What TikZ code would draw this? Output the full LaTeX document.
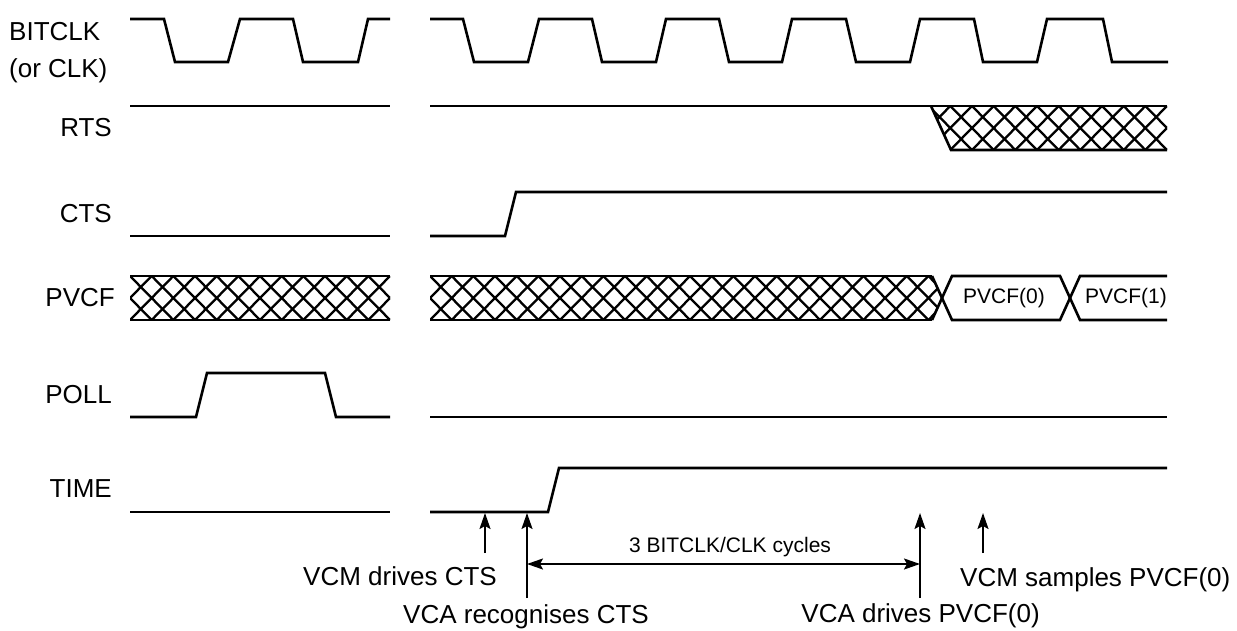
\documentclass[tikz,border=0pt]{standalone}
\usepackage{fontspec}
\setmainfont{Liberation Sans}
\usetikzlibrary{arrows.meta}
\begin{document}
\begin{tikzpicture}[x=1pt,y=-1pt,
  sig/.style={line width=2.6pt,line join=miter,line cap=butt},
  hat/.style={line width=2.3pt},
  lbl/.style={inner sep=0pt,font=\fontsize{26}{37}\selectfont},
  small/.style={inner sep=0pt,font=\fontsize{21}{25}\selectfont},
  marker/.style={line width=2pt,-{Stealth[length=16pt,width=11pt,inset=3pt]}},
  span/.style={line width=2pt,{Stealth[length=16pt,width=11pt,inset=3pt]}-{Stealth[length=16pt,width=11pt,inset=3pt]}}]
\useasboundingbox (0,0) rectangle (1237,631);
% ---- labels
\node[lbl,anchor=north west,align=left] (lclk) at (9,22) {BITCLK\\(or CLK)};
\node[lbl,anchor=base east] (lrts) at (112,137) {RTS};
\node[lbl,anchor=base east] (lcts) at (112,223) {CTS};
\node[lbl,anchor=base east] (lpvcf) at (115,306) {PVCF};
\node[lbl,anchor=base east] (lpoll) at (112,403) {POLL};
\node[lbl,anchor=base east] (ltime) at (112,497) {TIME};
% ---- BITCLK
\draw[sig] (130,19) -- (164,19) -- (175,62) -- (228,62) -- (240,19) -- (293,19) -- (303,62) -- (358,62) -- (368,19) -- (390,19);
\draw[sig] (430,19) -- (463,19) -- (474,62) -- (528,62) -- (539,19) -- (592,19) -- (602,62) -- (656,62) -- (666,19) -- (719,19) -- (729,62) -- (782,62) -- (792,19) -- (846,19) -- (856,62) -- (910,62) -- (920,19) -- (974,19) -- (983,62) -- (1037,62) -- (1047,19) -- (1103,19) -- (1112,62) -- (1168,62);
% ---- RTS
\draw[sig] (130,106) -- (390,106);
\draw[sig] (430,106) -- (1167,106);
\draw[sig] (931,106) -- (951,150) -- (1167,150);
\begin{scope}
  \clip (931,106) -- (1167,106) -- (1167,150) -- (951,150) -- cycle;
  \foreach \k in {-1,...,13} {
    \pgfmathsetmacro{\a}{1167-21.67*\k}
    \draw[hat] (\a-21.67,106) -- (\a+21.67,150);
    \draw[hat] (\a+21.67,106) -- (\a-21.67,150);
  }
\end{scope}
% ---- CTS
\draw[sig] (130,236) -- (390,236);
\draw[sig] (430,236) -- (505,236) -- (516,192) -- (1167,192);
% ---- PVCF
\draw[sig] (130,276) -- (390,276);
\draw[sig] (130,320) -- (390,320);
\begin{scope}
  \clip (130,276) rectangle (390,320);
  \foreach \k in {-1,...,13} {
    \pgfmathsetmacro{\a}{130+21.67*\k}
    \draw[hat] (\a-21.67,276) -- (\a+21.67,320);
    \draw[hat] (\a+21.67,276) -- (\a-21.67,320);
  }
\end{scope}
\draw[sig] (430,276) -- (932,276);
\draw[sig] (430,320) -- (932,320);
\begin{scope}
  \clip (430,276) -- (932,276) -- (942,298) -- (932,320) -- (430,320) -- cycle;
  \foreach \k in {-1,...,25} {
    \pgfmathsetmacro{\a}{430+21.67*\k}
    \draw[hat] (\a-21.67,276) -- (\a+21.67,320);
    \draw[hat] (\a+21.67,276) -- (\a-21.67,320);
  }
\end{scope}
\draw[sig] (932,276) -- (952,320) -- (1060,320) -- (1080,276) -- (1167,276);
\draw[sig] (932,320) -- (952,276) -- (1060,276) -- (1080,320) -- (1167,320);
\node[small] (p0) at (1004,298) {PVCF(0)};
\node[small] (p1) at (1126,298) {PVCF(1)};
% ---- POLL
\draw[sig] (130,417) -- (196,417) -- (207,373) -- (325,373) -- (336,417) -- (390,417);
\draw[sig] (430,417) -- (1167,417);
% ---- TIME
\draw[sig] (130,512) -- (390,512);
\draw[sig] (430,512) -- (548,512) -- (559,468) -- (1167,468);
% ---- markers
\coordinate (a1b) at (485,553); \coordinate (a1t) at (485,513);
\coordinate (a2b) at (527,598); \coordinate (a2t) at (527,513);
\coordinate (a3b) at (920,598); \coordinate (a3t) at (920,513);
\coordinate (a4b) at (983,553); \coordinate (a4t) at (983,513);
\coordinate (h1) at (527,564); \coordinate (h2) at (920,564);
\draw[marker] (a1b) -- (a1t);
\draw[marker] (a2b) -- (a2t);
\draw[marker] (a3b) -- (a3t);
\draw[marker] (a4b) -- (a4t);
\draw[span] (h1) -- (h2);
\node[small,anchor=base] (cyc) at (730,552) {3 BITCLK/CLK cycles};
\node[lbl,anchor=base east] (t1) at (497,585) {VCM drives CTS};
\node[lbl,anchor=base west] (t2) at (403,623) {VCA recognises CTS};
\node[lbl,anchor=base east] (t3) at (1040,622) {VCA drives PVCF(0)};
\node[lbl,anchor=base west] (t4) at (960,586) {VCM samples PVCF(0)};
\end{tikzpicture}
\end{document}
